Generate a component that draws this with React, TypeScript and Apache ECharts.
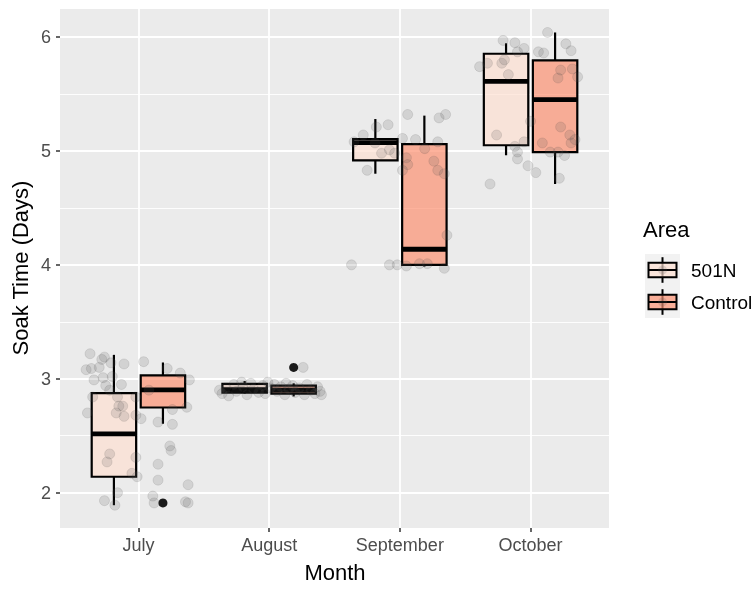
import React, { useEffect, useRef } from "react";
import * as echarts from "echarts";

const months = ["July", "August", "September", "October"];
const areas = ["501N", "Control"];
const yTicks = [2, 3, 4, 5, 6];
const yMinor = [2.5, 3.5, 4.5, 5.5];

// [min, q1, median, q3, max] per month
const box501N = [
  [1.89, 2.14, 2.517, 2.874, 3.21],
  [2.87, 2.878, 2.905, 2.955, 2.98],
  [4.8, 4.918, 5.073, 5.105, 5.28],
  [4.962, 5.05, 5.61, 5.853, 5.945],
];
const boxControl = [
  [2.605, 2.748, 2.903, 3.03, 3.143],
  [2.845, 2.87, 2.9, 2.94, 2.96],
  [3.985, 4.0, 4.137, 5.059, 5.31],
  [4.71, 4.99, 5.45, 5.795, 6.04],
];

// outliers (Control): [month index, value]
const outlierControl = [
  [0, 1.91],
  [1, 3.1],
];

// jittered raw points: [offset from month centre, value]
const julyPoints = [
  [-0.37, 3.22], [-0.28, 3.17], [-0.26, 3.19], [-0.4, 3.08], [-0.36, 3.09],
  [-0.3, 3.1], [-0.21, 3.14], [-0.11, 3.13], [0.04, 3.15], [0.22, 3.09],
  [0.32, 3.05], [0.39, 2.99], [-0.34, 2.99], [-0.27, 3.01], [-0.2, 3.02],
  [-0.25, 2.94], [-0.13, 2.95], [-0.22, 2.9], [0.08, 2.9], [-0.35, 2.84],
  [-0.16, 2.84], [-0.02, 2.84], [-0.12, 2.76], [-0.15, 2.76], [-0.17, 2.7],
  [-0.11, 2.67], [-0.39, 2.7], [-0.02, 2.68], [0.02, 2.65], [0.26, 2.73],
  [0.37, 2.75], [0.15, 2.62], [0.26, 2.6], [0.24, 2.41], [0.25, 2.37],
  [-0.22, 2.34], [-0.24, 2.27], [-0.02, 2.31], [-0.05, 2.17], [-0.01, 2.14],
  [0.15, 2.25], [0.15, 2.11], [0.38, 2.07], [-0.16, 2.0], [-0.26, 1.93],
  [-0.18, 1.89], [0.11, 1.97], [0.12, 1.91], [0.36, 1.92], [0.38, 1.91],
];
const augustPoints = [
  [-0.38, 2.9], [-0.36, 2.87], [-0.33, 2.92], [-0.31, 2.85], [-0.27, 2.95],
  [-0.25, 2.89], [-0.2, 2.93], [-0.17, 2.86], [-0.14, 2.96], [-0.12, 2.91],
  [-0.08, 2.88], [-0.05, 2.94], [-0.03, 2.87], [0.01, 2.92], [0.04, 2.95],
  [0.06, 2.89], [0.09, 2.93], [0.12, 2.86], [0.15, 2.91], [0.18, 2.94],
  [0.2, 2.88], [0.23, 2.92], [0.26, 3.1], [0.27, 2.86], [0.29, 2.95],
  [0.32, 2.9], [0.35, 2.87], [0.37, 2.93], [0.39, 2.89], [0.4, 2.86],
  [-0.01, 2.97], [0.13, 2.96], [-0.21, 2.97],
];
const septemberPoints = [
  [-0.37, 4.0], [-0.08, 4.0], [-0.02, 4.0], [0.05, 3.99], [0.15, 4.01],
  [0.21, 4.01], [0.34, 3.97], [0.36, 4.26], [0.06, 5.32], [0.3, 5.29],
  [0.35, 5.32], [-0.18, 5.21], [-0.09, 5.23], [-0.28, 5.14], [-0.35, 5.08],
  [-0.19, 5.07], [-0.14, 4.98], [-0.08, 5.01], [-0.04, 4.98], [0.02, 5.11],
  [0.12, 5.1], [0.19, 5.02], [0.29, 5.08], [0.05, 4.94], [0.06, 4.88],
  [0.02, 4.83], [-0.25, 4.83], [0.26, 4.91], [0.29, 4.83], [0.34, 4.8],
];
const octoberPoints = [
  [0.13, 6.04], [-0.21, 5.97], [-0.12, 5.95], [-0.05, 5.9], [-0.1, 5.87],
  [0.06, 5.87], [0.1, 5.86], [0.27, 5.94], [0.31, 5.88], [-0.39, 5.74],
  [-0.33, 5.77], [-0.22, 5.77], [-0.2, 5.8], [-0.17, 5.67], [0.23, 5.71],
  [0.21, 5.64], [0.32, 5.72], [0.36, 5.65], [0.0, 5.26], [0.23, 5.21],
  [0.3, 5.14], [0.34, 5.1], [-0.26, 5.14], [0.09, 5.07], [-0.05, 5.08],
  [-0.12, 5.04], [-0.1, 4.99], [-0.1, 4.93], [-0.02, 4.87], [0.04, 4.81],
  [0.15, 4.99], [0.21, 4.99], [0.26, 4.96], [0.22, 4.76], [-0.31, 4.71],
  [0.31, 5.07],
];

const FONT = "'Liberation Sans', Arial, Helvetica, sans-serif";
const DODGE = 0.1875;
const HALF = 0.17;
const FILLS = ["rgba(254,224,210,0.7)", "rgba(252,146,114,0.7)"];

function boxRender(offset: number, fill: string) {
  return (params: any, api: any) => {
    const x = api.value(0) + offset;
    const left = api.coord([x - HALF, api.value(4)]);
    const right = api.coord([x + HALF, api.value(2)]);
    const top = api.coord([x, api.value(5)]);
    const bottom = api.coord([x, api.value(1)]);
    const med = api.coord([x, api.value(3)]);
    const xc = top[0];
    return {
      type: "group",
      children: [
        { type: "line", shape: { x1: xc, y1: top[1], x2: xc, y2: left[1] }, style: { stroke: "#000", lineWidth: 2.2 } },
        { type: "line", shape: { x1: xc, y1: right[1], x2: xc, y2: bottom[1] }, style: { stroke: "#000", lineWidth: 2.2 } },
        {
          type: "rect",
          shape: { x: left[0], y: left[1], width: right[0] - left[0], height: right[1] - left[1] },
          style: { fill, stroke: "#000", lineWidth: 2.2 },
        },
        { type: "line", shape: { x1: left[0], y1: med[1], x2: right[0], y2: med[1] }, style: { stroke: "#000", lineWidth: 4.8 } },
      ],
    };
  };
}

function legendKey(cy: number, fill: string) {
  const x0 = 645;
  const w = 35;
  const h = 32;
  const y0 = cy - h / 2;
  return [
    { type: "rect", shape: { x: x0, y: y0, width: w, height: h }, style: { fill: "#F2F2F2" } },
    { type: "line", shape: { x1: x0 + w / 2, y1: y0 + h * 0.1, x2: x0 + w / 2, y2: y0 + h * 0.9 }, style: { stroke: "#000", lineWidth: 2 } },
    {
      type: "rect",
      shape: { x: x0 + w * 0.1, y: y0 + h * 0.27, width: w * 0.8, height: h * 0.46 },
      style: { fill, stroke: "#000", lineWidth: 2 },
    },
    { type: "line", shape: { x1: x0 + w * 0.1, y1: cy, x2: x0 + w * 0.9, y2: cy }, style: { stroke: "#000", lineWidth: 2 } },
    { type: "circle", shape: { cx: x0 + w / 2, cy, r: 4.5 }, style: { fill: "rgba(90,90,90,0.18)" } },
  ];
}

export default function App() {
  const ref = useRef<HTMLDivElement>(null);
  useEffect(() => {
    if (!ref.current) return;
    const chart = echarts.init(ref.current, null, { renderer: "svg" });
    const boxData = (arr: number[][]) => arr.map((b, i) => [i + 1, ...b]);
    const allPoints = [julyPoints, augustPoints, septemberPoints, octoberPoints].flatMap((pts, i) =>
      pts.map((p) => [i + 1 + p[0], p[1]])
    );
    const outliers = outlierControl.map((o) => [o[0] + 1 + DODGE, o[1]]);
    chart.setOption({
      animation: false,
      grid: {
        left: 60,
        top: 9,
        right: 145,
        bottom: 64,
        show: true,
        backgroundColor: "#EBEBEB",
        borderWidth: 0,
      },
      xAxis: {
        type: "value",
        min: 0.4,
        max: 4.6,
        axisLine: { show: false },
        axisTick: { show: true, length: 4, lineStyle: { color: "#333333", width: 1.5 }, customValues: [1, 2, 3, 4] },
        axisLabel: {
          customValues: [1, 2, 3, 4],
          formatter: (v: number) => months[Math.round(v) - 1] || "",
          color: "#4D4D4D",
          fontSize: 18,
          fontFamily: FONT,
          margin: 8,
        },
        splitLine: { show: true, lineStyle: { color: "#FFFFFF", width: 1.8 } },
      },
      yAxis: [
        {
          type: "value",
          min: 1.69,
          max: 6.246,
          axisLine: { show: false },
          axisTick: { show: true, length: 4, lineStyle: { color: "#333333", width: 1.5 }, customValues: yTicks },
          axisLabel: { customValues: yTicks, color: "#4D4D4D", fontSize: 18, fontFamily: FONT, margin: 9 },
          splitLine: { show: true, lineStyle: { color: "#FFFFFF", width: 1.8 } },
        },
        {
          type: "value",
          min: 1.69,
          max: 6.246,
          position: "left",
          axisLine: { show: false },
          axisTick: { show: false, customValues: yMinor },
          axisLabel: { show: false, customValues: yMinor },
          splitLine: { show: true, lineStyle: { color: "#FFFFFF", width: 0.9 } },
        },
      ],
      series: [
        {
          type: "custom",
          name: areas[0],
          renderItem: boxRender(-DODGE, FILLS[0]),
          encode: { x: 0, y: [1, 2, 3, 4, 5] },
          data: boxData(box501N),
          z: 2,
          silent: true,
        },
        {
          type: "custom",
          name: areas[1],
          renderItem: boxRender(DODGE, FILLS[1]),
          encode: { x: 0, y: [1, 2, 3, 4, 5] },
          data: boxData(boxControl),
          z: 2,
          silent: true,
        },
        {
          type: "scatter",
          data: outliers,
          symbolSize: 9,
          itemStyle: { color: "#1A1A1A", opacity: 1 },
          z: 3,
          silent: true,
        },
        {
          type: "scatter",
          data: allPoints,
          symbolSize: 10,
          itemStyle: { color: "rgba(90,90,90,0.21)", borderColor: "rgba(60,60,60,0.15)", borderWidth: 1 },
          z: 4,
          silent: true,
        },
      ],
      graphic: [
        {
          type: "text",
          x: 335,
          y: 572,
          style: { text: "Month", font: `22px ${FONT}`, fill: "#000", textAlign: "center", textVerticalAlign: "middle" },
        },
        {
          type: "text",
          x: 20,
          y: 268,
          rotation: Math.PI / 2,
          style: { text: "Soak Time (Days)", font: `22px ${FONT}`, fill: "#000", textAlign: "center", textVerticalAlign: "middle" },
        },
        {
          type: "text",
          x: 643,
          y: 229,
          style: { text: "Area", font: `22px ${FONT}`, fill: "#000", textAlign: "left", textVerticalAlign: "middle" },
        },
        ...legendKey(270, FILLS[0]),
        ...legendKey(302, FILLS[1]),
        {
          type: "text",
          x: 691,
          y: 270,
          style: { text: areas[0], font: `19px ${FONT}`, fill: "#000", textAlign: "left", textVerticalAlign: "middle" },
        },
        {
          type: "text",
          x: 691,
          y: 302,
          style: { text: areas[1], font: `19px ${FONT}`, fill: "#000", textAlign: "left", textVerticalAlign: "middle" },
        },
      ],
    });
    return () => chart.dispose();
  }, []);
  return <div ref={ref} style={{ position: "fixed", left: 0, top: 0, width: 754, height: 592 }} />;
}
